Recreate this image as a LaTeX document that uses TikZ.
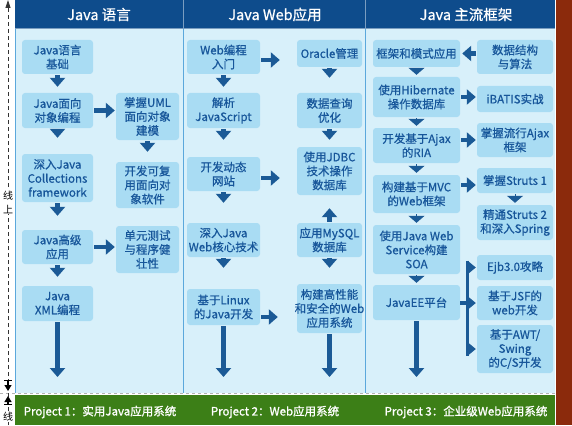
\documentclass[tikz,border=0pt]{standalone}
\usepackage{fontspec}
\newfontfamily\cjk{Noto Sans CJK SC}
\newfontfamily\cjkm[FakeBold=0.7]{Noto Sans CJK SC}
\newfontfamily\cjkb[FakeBold=1.2]{Noto Sans CJK SC}
\usepackage{xcolor}
\definecolor{headblue}{HTML}{0E4C8C}
\definecolor{panelbg}{HTML}{D8F0FA}
\definecolor{boxblue}{HTML}{A9DCF3}
\definecolor{txtblue}{HTML}{17569A}
\definecolor{arblue}{HTML}{1B5A96}
\definecolor{linebl}{HTML}{5BA8DC}
\definecolor{projgreen}{HTML}{3C7F17}
\definecolor{sidered}{HTML}{8B2A0C}
\usepackage{tikz}
\usetikzlibrary{arrows.meta,positioning}
\tikzset{
  jb/.style={fill=boxblue, rounded corners=3pt, align=center, text=txtblue,
             font=\cjkm\fontsize{11.5}{14}\selectfont, inner sep=1pt},
  b1l/.style={jb, minimum width=71pt},
  b1r/.style={jb, minimum width=63pt},
  b2l/.style={jb, minimum width=73pt},
  b2r/.style={jb, minimum width=65pt},
  b3l/.style={jb, minimum width=87pt},
  b3r/.style={jb, minimum width=76pt},
  head/.style={text=white, font=\cjkm\fontsize{14.5}{16}\selectfont},
  proj/.style={text=white, font=\cjkb\fontsize{11.5}{14}\selectfont},
  side/.style={fill=white, inner sep=0.5pt, align=center,
               font=\cjk\fontsize{10}{14}\selectfont},
  ar/.style={-{Triangle[width=15pt,length=9pt]}, draw=arblue, line width=4.5pt,
             shorten <=1pt, shorten >=1pt},
  tri/.style={-{Triangle[width=16pt,length=7pt]}, draw=arblue, line width=1pt,
              shorten <=1pt, shorten >=2pt},
  tri2/.style={-{Triangle[width=13pt,length=8pt]}, draw=arblue, line width=1pt,
               shorten >=1pt},
  gapmark/.style={{Bar[width=8pt]}-{Triangle[width=7pt,length=6pt]},
                  line width=1.2pt, black},
}

\begin{document}
\begin{tikzpicture}[x=1pt, y=-1pt]
  \useasboundingbox (0,0) rectangle (572,425);
  % background panels
  \fill[panelbg] (15,28) rectangle (555,393);
  \fill[headblue] (15,0) rectangle (555,28);
  \fill[projgreen] (15,395) rectangle (555,425);
  \fill[sidered] (556,0) rectangle (572,425);
  \draw[linebl, line width=1pt] (15,28) -- (15,393) (183,28) -- (183,393)
    (365,28) -- (365,393);
  \draw[headblue!55!white, line width=0.6pt] (15,28) -- (555,28)
    (183,0) -- (183,28) (365,0) -- (365,28);
  \draw[gray!60, dashed, line width=1pt] (0,393.5) -- (555,393.5);

  \node[head] (h1) at (99,14.5) {Java 语言};
  \node[head] (h2) at (275,14.5) {Java Web应用};
  \node[head] (h3) at (466,14.5) {Java 主流框架};
  \node[proj] (p1) at (100,412) {Project 1：实用Java应用系统};
  \node[proj] (p2) at (275,412) {Project 2：Web应用系统};
  \node[proj] (p3) at (466,412) {Project 3：企业级Web应用系统};

  % column 1
  \node[b1l, minimum height=34pt] (basic) at (57.5,57) {Java语言\\基础};
  \node[b1l, minimum height=35pt] (oop) at (57.5,110.5) {Java面向\\对象编程};
  \node[b1l, minimum height=48pt] (coll) at (57.5,178) {深入Java\\Collections\\framework};
  \node[b1l, minimum height=34pt] (adv) at (57.5,247) {Java高级\\应用};
  \node[b1l, minimum height=35pt] (xml) at (57.5,303.5) {Java\\XML编程};
  \node[b1r, minimum height=47pt] (uml) at (147.5,116.5) {掌握UML\\面向对象\\建模};
  \node[b1r, minimum height=46pt] (reuse) at (147.5,185) {开发可复\\用面向对\\象软件};
  \node[b1r, minimum height=47pt] (unit) at (147.5,249.5) {单元测试\\与程序健\\壮性};

  % column 2
  \node[b2l, minimum height=34pt] (webintro) at (223.5,57) {Web编程\\入门};
  \node[b2l, minimum height=35pt] (js) at (223.5,110.5) {解析\\JavaScript};
  \node[b2l, minimum height=34pt] (dyn) at (223.5,174) {开发动态\\网站};
  \node[b2l, minimum height=34pt] (core) at (223.5,240) {深入Java\\Web核心技术};
  \node[b2l, minimum height=36pt] (linux) at (223.5,307) {基于Linux\\的Java开发};
  \node[b2r, minimum height=27pt] (oracle) at (329.5,53.5) {Oracle管理};
  \node[b2r, minimum height=35pt] (query) at (329.5,110.5) {数据查询\\优化};
  \node[b2r, minimum height=48pt] (jdbc) at (329.5,171) {使用JDBC\\技术操作\\数据库};
  \node[b2r, minimum height=34pt] (mysql) at (329.5,240) {应用MySQL\\数据库};
  \node[b2r, minimum height=49pt] (perf) at (329.5,308.5) {构建高性能\\\makebox[56pt]{和安全的Web}\\应用系统};

  % column 3
  \node[b3l, minimum height=27pt] (frame) at (416.5,53.5) {框架和模式应用};
  \node[b3l, minimum height=40pt] (hib) at (416.5,97) {使用Hibernate\\操作数据库};
  \node[b3l, minimum height=35pt] (ria) at (416.5,145.5) {开发基于Ajax\\的RIA};
  \node[b3l, minimum height=38pt] (mvc) at (416.5,194) {构建基于MVC\\的Web框架};
  \node[b3l, minimum height=49pt] (soa) at (416.5,249.5) {使用Java Web\\Service构建\\SOA};
  \node[b3l, minimum height=35pt] (javaee) at (416.5,302.5) {JavaEE平台};
  \node[b3r, minimum height=34pt] (algo) at (515,57) {数据结构\\与算法};
  \node[b3r, minimum height=26pt] (ibatis) at (515,99) {iBATIS实战};
  \node[b3r, minimum height=34pt] (ajaxfw) at (515,140) {掌握流行Ajax\\框架};
  \node[b3r, minimum height=25pt] (struts1) at (515,180.5) {掌握Struts 1};
  \node[b3r, minimum height=35pt] (struts2) at (515,222.5) {精通Struts 2\\和深入Spring};
  \node[b3r, minimum height=25pt] (ejb) at (515,267.5) {Ejb3.0攻略};
  \node[b3r, minimum height=34pt] (jsf) at (515,303) {基于JSF的\\web开发};
  \node[b3r, minimum height=48pt] (awt) at (515,349) {基于AWT/\\Swing\\的C/S开发};

  \coordinate (end1) at (57.5,378);
  \coordinate (end2) at (223.5,378);
  \coordinate (end3) at (329.5,378);
  \coordinate (end4) at (416.5,378);

  \draw[ar, shorten >=6pt] (basic) -- (oop);
  \draw[ar, shorten >=16pt] (oop) -- (coll);
  \draw[ar, shorten >=14pt] (coll) -- (adv);
  \draw[ar, shorten >=9pt] (adv) -- (xml);
  \draw[ar, shorten >=10pt] (uml) -- (reuse);
  \draw[ar] (oop.east) -- (oop.east -| uml.west);
  \draw[ar] (adv.east) -- (adv.east -| unit.west);
  \draw[ar] (xml) -- (end1);

  \draw[ar, shorten >=17pt] ([yshift=-3pt]webintro.east) -- ([yshift=-3pt]webintro.east -| oracle.west);
  \draw[ar, shorten >=6pt] (webintro) -- (js);
  \draw[ar, shorten >=17pt] (js) -- (dyn);
  \draw[ar, shorten >=20pt] (dyn) -- (core);
  \draw[ar, shorten >=21pt] (core) -- (linux);
  \draw[ar, shorten >=17pt] ([yshift=-4pt]dyn.east) -- ([yshift=-4pt]dyn.east -| jdbc.west);
  \draw[ar, shorten >=19pt] ([yshift=-10pt]linux.east) -- ([yshift=-10pt]linux.east -| perf.west);
  \draw[ar, shorten >=15pt] (oracle) -- (query);
  \draw[ar, shorten >=7pt] (query) -- (jdbc);
  \draw[ar, shorten >=13pt] (mysql) -- (jdbc);
  \draw[ar, shorten >=16pt] (mysql) -- (perf);
  \draw[ar] (linux) -- (end2);
  \draw[ar] (perf) -- (end3);

  \draw[ar, shorten >=2pt] (algo.west |- frame.east) -- (frame.east);
  \draw[tri] (frame) -- (hib);
  \draw[tri] (hib) -- (ria);
  \draw[tri] (ria) -- (mvc);
  \draw[tri] (mvc) -- (soa);
  \draw[tri] (soa) -- (javaee);
  \draw[tri] (struts1) -- (struts2);
  \draw[ar] (hib.east) -- (hib.east -| ibatis.west);
  \draw[ar] (ria.east |- ajaxfw.west) -- (ajaxfw.west);
  \draw[ar] ([yshift=-4.5pt]struts1.west -| mvc.east) -- ([yshift=-4.5pt]struts1.west);
  \draw[ar] (javaee) -- (end4);

  \coordinate (brm) at ([xshift=-9pt]ejb.west |- javaee.east);
  \coordinate[yshift=7pt] (brt) at (brm |- ejb.west);
  \coordinate[yshift=-7pt] (brb) at (brm |- awt.west);
  \draw[arblue, line width=4pt] (javaee.east) -- (brm);
  \draw[arblue, line width=3pt] (brt) -- (brb);
  \draw[tri2] (brm |- ejb.west) -- (ejb.west);
  \draw[tri2] (brm |- jsf.west) -- (jsf.west);
  \draw[tri2] (brm |- awt.west) -- (awt.west);

  % left margin
  \coordinate (lt) at (8,0);
  \coordinate (lb) at (8,425);
  \draw[black!80, line width=0.8pt, dash pattern=on 4pt off 3pt,
        -{Triangle[width=5pt,length=8pt]}] (lb) -- (lt);
  \node[side] (online) at (8,202) {线\\上};
  \node[side] (offline) at (8,417) {线};
  \coordinate (m1) at (8,380);
  \coordinate (m2) at (8,391);
  \coordinate (m3) at (8,405);
  \coordinate (m4) at (8,396);
  \draw[gapmark] (m1) -- (m2);
  \draw[gapmark] (m3) -- (m4);
\end{tikzpicture}
\end{document}
